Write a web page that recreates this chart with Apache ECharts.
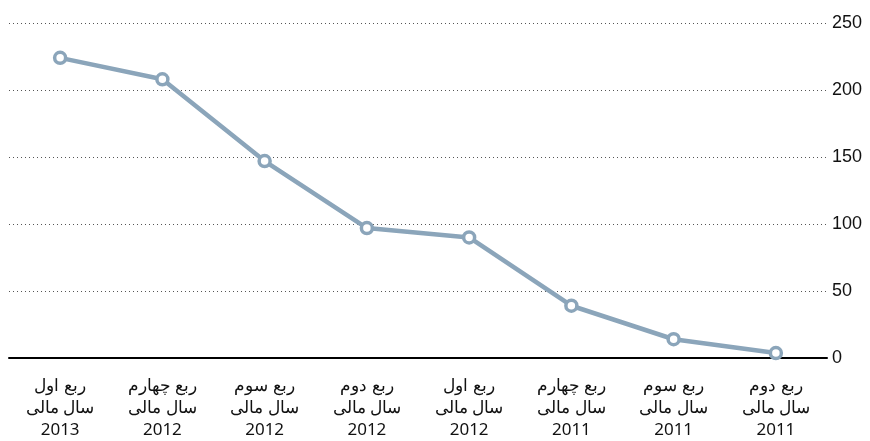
<!DOCTYPE html>
<html>
<head>
<meta charset="utf-8">
<script src="https://cdn.jsdelivr.net/npm/echarts@6/dist/echarts.min.js"></script>
<style>
  html, body { margin: 0; padding: 0; background: #fff; }
  #chart { width: 870px; height: 441px; }
</style>
</head>
<body>
<div id="chart"></div>
<script>
// chronological order, drawn right-to-left
const quarters = ['ربع دوم', 'ربع سوم', 'ربع چهارم', 'ربع اول', 'ربع دوم', 'ربع سوم', 'ربع چهارم', 'ربع اول'];
const years = ['2011', '2011', '2011', '2012', '2012', '2012', '2012', '2013'];
const values = [3.7, 14, 39, 90, 97, 147, 208, 224];
const yTicks = [0, 50, 100, 150, 200, 250];

const categories = quarters.map((q, i) => q + '\nسال مالی\n' + years[i]);

const chart = echarts.init(document.getElementById('chart'));
chart.setOption({
  animation: false,
  grid: { left: 9, right: 43, top: 23, bottom: 82 },
  xAxis: {
    type: 'category',
    inverse: true,
    data: categories,
    boundaryGap: true,
    axisLine: { show: true, lineStyle: { color: '#000', width: 2 } },
    axisTick: { show: false },
    axisLabel: {
      color: '#111',
      fontFamily: 'Noto Sans',
      fontSize: 17,
      lineHeight: 22,
      margin: 17,
      interval: 0
    }
  },
  yAxis: {
    type: 'value',
    position: 'right',
    min: yTicks[0],
    max: yTicks[yTicks.length - 1],
    interval: 50,
    axisLine: { show: false },
    axisTick: { show: false },
    axisLabel: {
      color: '#111',
      fontFamily: 'Liberation Sans',
      fontSize: 18,
      margin: 5
    },
    splitLine: { lineStyle: { color: '#555', type: [1, 3], width: 1 } }
  },
  series: [{
    type: 'line',
    data: values,
    symbol: 'circle',
    symbolSize: 11,
    lineStyle: { color: '#8ba5ba', width: 4.5 },
    itemStyle: { color: '#fff', borderColor: '#8ba5ba', borderWidth: 3.5 },
    z: 3
  }]
});
</script>
</body>
</html>
